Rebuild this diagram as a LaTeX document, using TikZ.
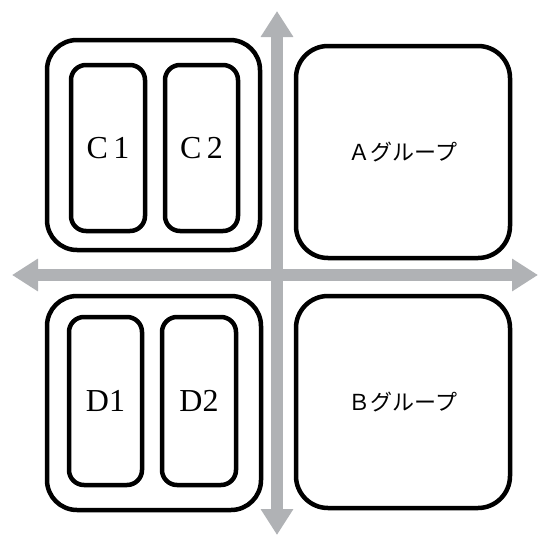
\documentclass[tikz,border=0pt]{standalone}
\usepackage{fontspec}
\setmainfont{Liberation Serif}
\newfontfamily\jpfont{Noto Sans CJK JP}
\usetikzlibrary{arrows.meta}
\definecolor{axisgray}{RGB}{176,178,181}
\tikzset{
  axis/.style={draw=axisgray, line width=12.5pt,
    {Triangle[length=26pt,width=31pt]}-{Triangle[length=26pt,width=31pt]}},
  groupbox/.style={draw=black, line width=4.5pt, rounded corners=30pt, inner sep=0pt, fill=white},
  bigbox/.style={draw=black, line width=4.5pt, rounded corners=32pt, inner sep=0pt, fill=white,
    minimum width=214pt, minimum height=212pt, font=\jpfont\fontsize{22}{26}\selectfont},
  subbox/.style={draw=black, line width=4.5pt, rounded corners=15pt, inner sep=0pt, fill=white,
    font=\fontsize{32}{36}\selectfont}
}
\begin{document}
\begin{tikzpicture}[x=1pt,y=-1pt]
\useasboundingbox (0,0) rectangle (541,538);
\coordinate (vtop) at (277,11);
\coordinate (vbot) at (277,535);
\coordinate (hleft) at (12,275);
\coordinate (hright) at (538,275);
\draw[axis] (vbot) -- (vtop);
\draw[axis] (hleft) -- (hright);

\node[bigbox] (A) at (403,152) {Ａグループ};
\node[bigbox] (B) at (403,402) {Ｂグループ};

\node[groupbox, minimum width=213pt, minimum height=210pt] (C) at (153.5,145) {};
\node[subbox, minimum width=74pt, minimum height=166pt] (C1) at (108,148) {C\,1};
\node[subbox, minimum width=73pt, minimum height=166pt] (C2) at (201.5,148) {C\,2};

\node[groupbox, minimum width=214pt, minimum height=214pt] (D) at (154,403) {};
\node[subbox, minimum width=73pt, minimum height=168pt] (D1) at (105.5,401) {D1};
\node[subbox, minimum width=74pt, minimum height=168pt] (D2) at (199,401) {D2};
\end{tikzpicture}
\end{document}
